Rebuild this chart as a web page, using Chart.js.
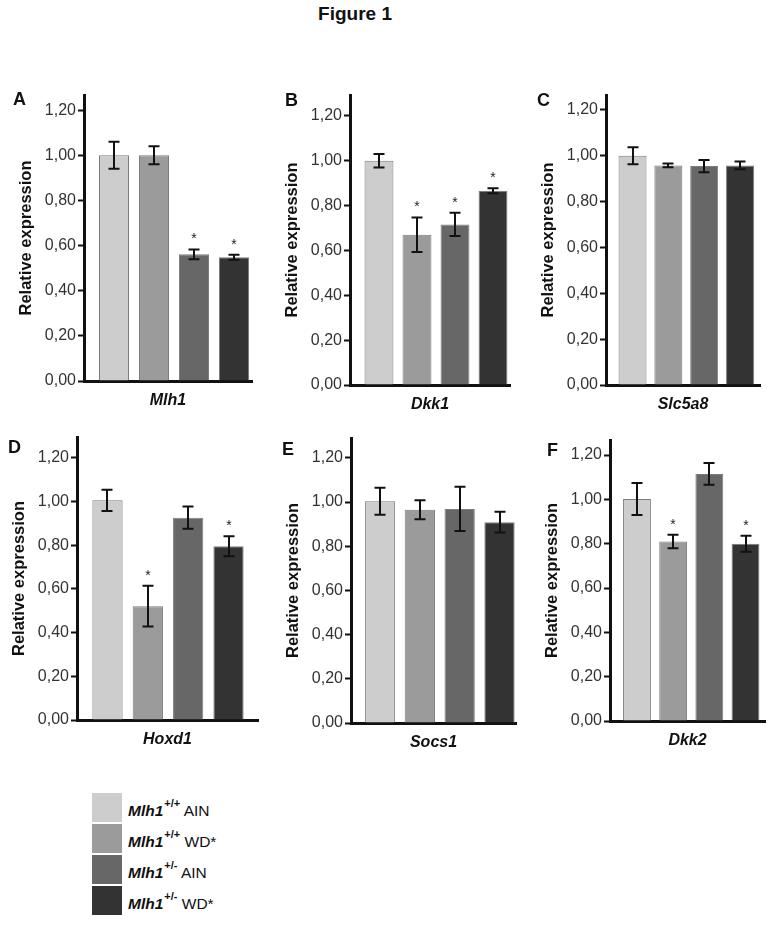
<!DOCTYPE html>
<html>
<head>
<meta charset="utf-8">
<script src="https://cdn.jsdelivr.net/npm/chart.js@4/dist/chart.umd.min.js"></script>
<style>
  html, body { margin:0; padding:0; background:#fff; }
  body { width:780px; height:925px; position:relative; overflow:hidden;
         font-family:"Liberation Sans", Arial, sans-serif; color:#111; }
  canvas { position:absolute; }
  .letter { position:absolute; font-weight:bold; font-size:18px; line-height:1; color:#111; }
  #title { position:absolute; left:255px; width:200px; top:4px; text-align:center;
           font-weight:bold; font-size:19px; line-height:1; color:#111; }
  .lrow { position:absolute; left:92px; height:29px; }
  .sw { position:absolute; left:0; top:0; width:30px; height:29px; }
  .lab { position:absolute; left:36px; top:3px; white-space:nowrap; font-size:15.5px; line-height:29px; }
  .lab b { font-style:italic; font-weight:bold; font-size:15.5px; }
  .lab .sup { position:relative; top:-9px; font-size:11px; font-weight:bold; margin-left:1px; }
</style>
</head>
<body>
<div id="title">Figure 1</div>

<script>
// ---------------- DATA ----------------
const panelLetters = ['A', 'B', 'C', 'D', 'E', 'F'];
const genes = ['Mlh1', 'Dkk1', 'Slc5a8', 'Hoxd1', 'Socs1', 'Dkk2'];
const groupGenotypes = ['+/+', '+/+', '+/-', '+/-'];
const groupDiets = ['AIN', 'WD*', 'AIN', 'WD*'];
const groupColors = ['#cdcdcd', '#9b9b9b', '#676767', '#333333'];

const yTickValues = [0, 0.2, 0.4, 0.6, 0.8, 1.0, 1.2];
const yTickLabels = ['0,00', '0,20', '0,40', '0,60', '0,80', '1,00', '1,20'];

const mlh1Mean  = [1.00, 1.00, 0.561, 0.548];
const mlh1Err   = [0.060, 0.040, 0.022, 0.011];
const mlh1Sig   = [false, false, true, true];

const dkk1Mean  = [1.00, 0.670, 0.716, 0.866];
const dkk1Err   = [0.030, 0.077, 0.052, 0.011];
const dkk1Sig   = [false, true, true, true];

const slc5a8Mean = [1.00, 0.958, 0.955, 0.958];
const slc5a8Err  = [0.037, 0.008, 0.027, 0.017];
const slc5a8Sig  = [false, false, false, false];

const hoxd1Mean = [1.005, 0.521, 0.926, 0.795];
const hoxd1Err  = [0.049, 0.093, 0.051, 0.046];
const hoxd1Sig  = [false, true, false, true];

const socs1Mean = [1.004, 0.965, 0.969, 0.909];
const socs1Err  = [0.061, 0.043, 0.100, 0.047];
const socs1Sig  = [false, false, false, false];

const dkk2Mean  = [1.002, 0.810, 1.115, 0.800];
const dkk2Err   = [0.072, 0.030, 0.049, 0.036];
const dkk2Sig   = [false, true, false, true];

const panelMeans = [mlh1Mean, dkk1Mean, slc5a8Mean, hoxd1Mean, socs1Mean, dkk2Mean];
const panelErrs  = [mlh1Err, dkk1Err, slc5a8Err, hoxd1Err, socs1Err, dkk2Err];
const panelSigs  = [mlh1Sig, dkk1Sig, slc5a8Sig, hoxd1Sig, socs1Sig, dkk2Sig];

// ---------------- LAYOUT (positions only) ----------------
const panelLayout = [
  {axisX:84,  topY:95,  zeroY:381, rightX:252, yMax:1.267, xMin:-0.750, xMax:3.450, barPct:0.75, lx:13,  ly:90},
  {axisX:350, topY:95,  zeroY:385, rightX:510, yMax:1.293, xMin:-0.763, xMax:3.447, barPct:0.76, lx:285, ly:91},
  {axisX:606, topY:95,  zeroY:385, rightX:760, yMax:1.265, xMin:-0.740, xMax:3.558, barPct:0.78, lx:537, ly:91},
  {axisX:77,  topY:437, zeroY:720, rightX:258, yMax:1.295, xMin:-0.756, xMax:3.731, barPct:0.75, lx:8,   ly:438},
  {axisX:351, topY:438, zeroY:723, rightX:516, yMax:1.290, xMin:-0.728, xMax:3.414, barPct:0.76, lx:282, ly:440},
  {axisX:610, topY:440, zeroY:721, rightX:765, yMax:1.268, xMin:-0.746, xMax:3.539, barPct:0.77, lx:547, ly:441}
];
const Y_AXIS_W = 67, X_AXIS_H = 40, PAD_TOP = 14, PAD_RIGHT = 6;
const FONT = "'Liberation Sans', Arial, sans-serif";

Chart.defaults.font.family = FONT;

function makeErrPlugin(means, errs, sigs) {
  return {
    id: 'errbars',
    afterDatasetsDraw(chart) {
      const ctx = chart.ctx, y = chart.scales.y;
      const meta = chart.getDatasetMeta(0);
      ctx.save();
      ctx.strokeStyle = '#111';
      ctx.lineWidth = 2;
      ctx.fillStyle = '#222';
      ctx.font = "14px " + FONT;
      ctx.textAlign = 'center';
      ctx.textBaseline = 'alphabetic';
      meta.data.forEach((bar, i) => {
        const x = Math.round(bar.x);
        const yHi = y.getPixelForValue(means[i] + errs[i]);
        const yLo = y.getPixelForValue(means[i] - errs[i]);
        const cap = 5.5;
        ctx.beginPath();
        ctx.moveTo(x, yHi); ctx.lineTo(x, yLo);
        ctx.moveTo(x - cap, yHi); ctx.lineTo(x + cap, yHi);
        ctx.moveTo(x - cap, yLo); ctx.lineTo(x + cap, yLo);
        ctx.stroke();
        if (sigs[i]) ctx.fillText('*', x, yHi - 14 + 8);
      });
      ctx.restore();
    }
  };
}

panelLayout.forEach((L, p) => {
  const left = L.axisX - Y_AXIS_W;
  const top = L.topY - PAD_TOP;
  const width = L.rightX - left + PAD_RIGHT;
  const height = L.zeroY + X_AXIS_H - top;

  const cv = document.createElement('canvas');
  cv.width = width; cv.height = height;
  cv.style.left = left + 'px'; cv.style.top = top + 'px';
  cv.style.width = width + 'px'; cv.style.height = height + 'px';
  document.body.appendChild(cv);

  const letter = document.createElement('div');
  letter.className = 'letter';
  letter.style.left = L.lx + 'px'; letter.style.top = L.ly + 'px';
  letter.textContent = panelLetters[p];
  document.body.appendChild(letter);

  const means = panelMeans[p];
  new Chart(cv.getContext('2d'), {
    type: 'bar',
    data: {
      datasets: [{
        data: means.map((v, i) => ({x: i, y: v})),
        backgroundColor: groupColors,
        borderColor: '#7c7c7c',
        borderWidth: 1,
        barPercentage: L.barPct,
        categoryPercentage: 1
      }]
    },
    options: {
      responsive: false,
      animation: false,
      devicePixelRatio: 1,
      layout: { padding: { top: PAD_TOP, right: PAD_RIGHT, left: 0, bottom: 0 } },
      plugins: { legend: { display: false }, tooltip: { enabled: false } },
      scales: {
        x: {
          type: 'linear', min: L.xMin, max: L.xMax, offset: false,
          afterFit: s => { s.height = X_AXIS_H; },
          ticks: { display: false },
          grid: { display: false, offset: false },
          border: { display: true, width: 3, color: '#111' },
          title: {
            display: true, text: genes[p], color: '#111',
            font: { family: FONT, size: 16, weight: 'bold', style: 'italic' },
            padding: { top: 0, bottom: 10.4 }
          }
        },
        y: {
          type: 'linear', min: 0, max: L.yMax,
          afterBuildTicks: s => { s.ticks = yTickValues.map(v => ({ value: v })); },
          afterFit: s => { s.width = Y_AXIS_W; },
          ticks: {
            callback: (v, i) => yTickLabels[i],
            font: { family: FONT, size: 16 },
            color: '#333',
            padding: 2
          },
          grid: { display: true, drawOnChartArea: false, drawTicks: true,
                  tickLength: 6, tickWidth: 2, tickColor: '#111' },
          border: { display: true, width: 3, color: '#111' },
          title: {
            display: true, text: 'Relative expression', color: '#111',
            font: { family: FONT, size: 16.5, weight: 'bold' },
            padding: { top: 0, bottom: 0 }
          }
        }
      }
    },
    plugins: [makeErrPlugin(means, panelErrs[p], panelSigs[p])]
  });
});

// ---------------- LEGEND ----------------
const legendTops = [793, 824, 855, 886];
groupColors.forEach((c, i) => {
  const row = document.createElement('div');
  row.className = 'lrow';
  row.style.top = legendTops[i] + 'px';
  const sw = document.createElement('div');
  sw.className = 'sw';
  sw.style.background = c;
  row.appendChild(sw);
  const lab = document.createElement('div');
  lab.className = 'lab';
  const b = document.createElement('b'); b.textContent = 'Mlh1';
  const sup = document.createElement('span'); sup.className = 'sup'; sup.textContent = groupGenotypes[i];
  lab.appendChild(b); lab.appendChild(sup);
  lab.appendChild(document.createTextNode(' ' + groupDiets[i]));
  row.appendChild(lab);
  document.body.appendChild(row);
});
</script>
</body>
</html>
